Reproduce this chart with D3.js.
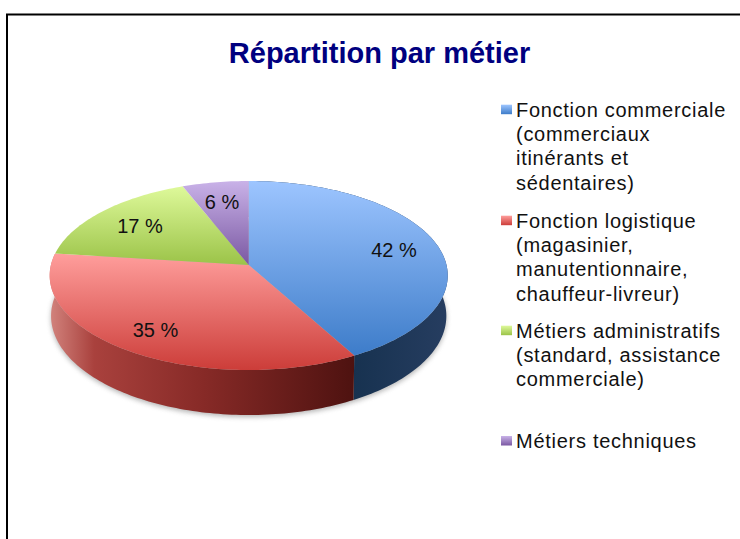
<!DOCTYPE html>
<html>
<head>
<meta charset="utf-8">
<script src="https://cdn.jsdelivr.net/npm/d3@7"></script>
<style>
  html, body { margin: 0; padding: 0; background: #fff; }
  svg { display: block; }
  text { font-family: "Liberation Sans", Arial, sans-serif; }
</style>
</head>
<body>
<div id="chart"></div>
<script>
// chart data
const title = "Répartition par métier";
const categories = ["Fonction commerciale", "Fonction logistique", "Métiers administratifs", "Métiers techniques"];
const values = [42, 35, 17, 6];
const legendLines = [
  ["Fonction commerciale", "(commerciaux", "itinérants et", "sédentaires)"],
  ["Fonction logistique", "(magasinier,", "manutentionnaire,", "chauffeur-livreur)"],
  ["Métiers administratifs", "(standard, assistance", "commerciale)"],
  ["Métiers techniques"]
];

// colours: top of slice, bottom of slice
const topColors = ["#9dc5ff", "#ff9e9c", "#def99a", "#c9b2e8"];
const bottomColors = ["#3d7cc9", "#cc3d39", "#9bc348", "#7a58a2"];

const width = 740, height = 539;

// projection of the pie disc, fitted on the reference
const cx = 248.7, cy = 265;
const persp = 0.111, discX = 197.8, discY = 93.33;
const depth = 40, baseScaleX = 0.993, baseScaleY = 1.048;

function project(angle, sx, sy, dy) {
  const u = Math.sin(angle), v = -Math.cos(angle);
  const k = 1 - persp * v;
  return [cx + sx * discX * u / k, cy + dy + sy * discY * v / k];
}

function rim(a0, a1, sx, sy, dy) {
  const n = Math.max(2, Math.ceil((a1 - a0) / 0.02));
  return d3.range(n + 1).map(i => project(a0 + (a1 - a0) * i / n, sx, sy, dy));
}

const line = d3.line();
const pie = d3.pie().sort(null).value(d => d);
const arcs = pie(values);

const svg = d3.select("#chart").append("svg")
  .attr("width", width)
  .attr("height", height);

const defs = svg.append("defs");

defs.append("filter").attr("id", "shadow")
  .attr("x", "-10%").attr("y", "-10%").attr("width", "120%").attr("height", "120%")
  .append("feGaussianBlur").attr("stdDeviation", 2.5);

// vertical gradient per slice, also used by the legend swatches
categories.forEach((c, i) => {
  const g = defs.append("linearGradient").attr("id", "top" + i)
    .attr("x1", 0).attr("y1", 0).attr("x2", 0).attr("y2", 1);
  g.append("stop").attr("offset", 0).attr("stop-color", topColors[i]);
  g.append("stop").attr("offset", 1).attr("stop-color", bottomColors[i]);
});

// side gradients run left to right
const sideRed = defs.append("linearGradient").attr("id", "side1")
  .attr("gradientUnits", "userSpaceOnUse")
  .attr("x1", 52).attr("y1", 0).attr("x2", 354).attr("y2", 0);
[[0, "#d0807a"], [0.14, "#a9413d"], [0.5, "#872a27"], [1, "#4e1210"]].forEach(s => {
  sideRed.append("stop").attr("offset", s[0]).attr("stop-color", s[1]);
});
const sideBlue = defs.append("linearGradient").attr("id", "side0")
  .attr("gradientUnits", "userSpaceOnUse")
  .attr("x1", 354).attr("y1", 0).attr("x2", 447).attr("y2", 0);
[[0, "#173250"], [1, "#263d60"]].forEach(s => {
  sideBlue.append("stop").attr("offset", s[0]).attr("stop-color", s[1]);
});

// frame, open on the right and bottom
svg.append("path")
  .attr("d", line([[7, height], [7, 14.5], [width, 14.5]]))
  .attr("fill", "none")
  .attr("stroke", "#000")
  .attr("stroke-width", 2);

svg.append("text")
  .attr("x", 379.5)
  .attr("y", 63)
  .attr("text-anchor", "middle")
  .attr("font-size", 29)
  .attr("font-weight", "bold")
  .attr("fill", "#00007f")
  .text(title);

// soft shadow under the base
svg.append("path")
  .attr("d", line(rim(0, 2 * Math.PI, baseScaleX, baseScaleY, depth + 2)) + "Z")
  .attr("fill", "#777")
  .attr("opacity", 0.55)
  .attr("filter", "url(#shadow)");

// pie walls
svg.append("g").selectAll("path")
  .data(arcs.slice(0, 2))
  .enter().append("path")
    .attr("d", d => line(rim(d.startAngle, d.endAngle, 1, 1, 0)
      .concat(rim(d.startAngle, d.endAngle, baseScaleX, baseScaleY, depth).reverse())) + "Z")
    .attr("fill", (d, i) => "url(#side" + i + ")");

// pie top
svg.append("g").selectAll("path")
  .data(arcs)
  .enter().append("path")
    .attr("d", d => line([[cx, cy]].concat(rim(d.startAngle, d.endAngle, 1, 1, 0))) + "Z")
    .attr("fill", (d, i) => "url(#top" + i + ")");

// value labels, placed by hand in the original
const labelX = [394, 155.5, 140, 222];
const labelY = [257, 337, 233, 209];
svg.append("g").selectAll("text")
  .data(values)
  .enter().append("text")
    .attr("x", (d, i) => labelX[i])
    .attr("y", (d, i) => labelY[i])
    .attr("text-anchor", "middle")
    .attr("font-size", 20)
    .attr("fill", "#111")
    .text(d => d + " %");

// legend
const legendY = [116.7, 227.7, 337.7, 448];
const lineStep = 24.3;
const legend = svg.append("g").selectAll("g")
  .data(legendLines)
  .enter().append("g")
    .attr("transform", (d, i) => "translate(0," + legendY[i] + ")");

legend.append("rect")
  .attr("x", 501)
  .attr("y", -12)
  .attr("width", 11)
  .attr("height", 9.5)
  .attr("fill", (d, i) => "url(#top" + i + ")");

legend.selectAll("text")
  .data(d => d)
  .enter().append("text")
    .attr("x", 516)
    .attr("y", (d, i) => i * lineStep)
    .attr("font-size", 20)
    .attr("letter-spacing", 0.72)
    .attr("fill", "#111")
    .text(d => d);
</script>
</body>
</html>
